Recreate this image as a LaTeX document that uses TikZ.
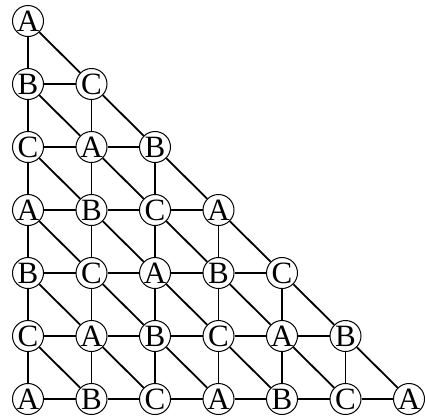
\documentclass[tikz,border=0pt]{standalone}
\usepackage{fontspec}
\setmainfont{Liberation Serif}
\begin{document}
\begin{tikzpicture}[x=1pt,y=1pt,
  vtx/.style={circle,draw,line width=1pt,fill=white,inner sep=0pt,minimum size=31pt,font=\fontsize{31}{31}\selectfont},
  edge/.style={line width=1.8pt}]
\useasboundingbox (0,0) rectangle (425,-418);
\foreach \i in {0,...,6}{
  \foreach \j in {0,...,\i}{
    \pgfmathtruncatemacro\k{mod(\i+\j,3)}
    \node[vtx] (n-\i-\j) at ({28+63.5*\j},{-21-63*\i}) {\ifcase\k A\or B\or C\fi};
  }}
\foreach \i in {0,...,5}{
  \pgfmathtruncatemacro\ii{\i+1}
  \foreach \j in {0,...,\i}{
    \pgfmathtruncatemacro\jj{\j+1}
    \draw[edge] (n-\i-\j) -- (n-\ii-\j);
    \draw[edge] (n-\i-\j) -- (n-\ii-\jj);
  }}
\foreach \i in {1,...,6}{
  \pgfmathtruncatemacro\last{\i-1}
  \foreach \j in {0,...,\last}{
    \pgfmathtruncatemacro\jj{\j+1}
    \draw[edge] (n-\i-\j) -- (n-\i-\jj);
  }}
\end{tikzpicture}
\end{document}
